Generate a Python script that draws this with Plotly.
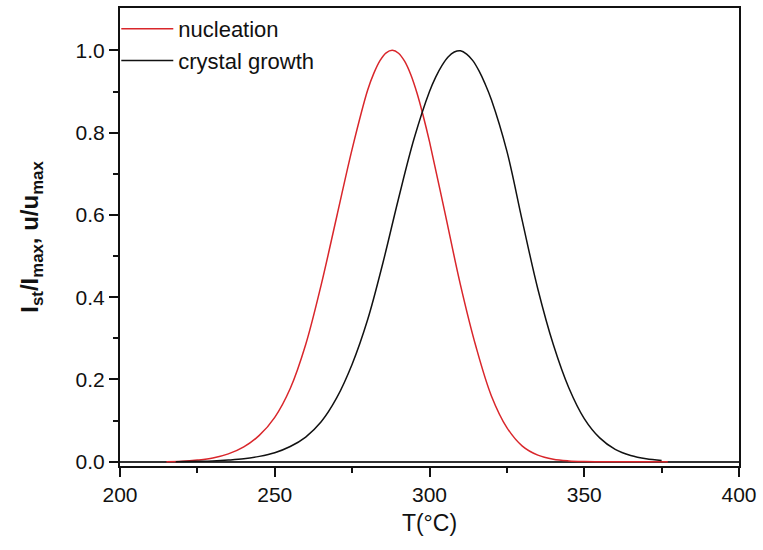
import plotly.graph_objects as go

# Temperatures (°C) and normalized rates
T_nuc = [215, 220, 225, 230, 235, 240, 245, 250, 255, 260, 265, 270, 275, 280, 282, 284, 286,
         288, 290, 292, 294, 296, 298, 300, 305, 310, 315, 320, 325, 330, 335, 340, 345, 350,
         355, 360, 365, 370, 377]
nucleation = [0.0, 0.001, 0.004, 0.009, 0.019, 0.036, 0.064, 0.108, 0.178, 0.285, 0.43, 0.595,
              0.76, 0.903, 0.944, 0.975, 0.994, 1.0, 0.993, 0.973, 0.94, 0.895, 0.84, 0.778,
              0.605, 0.43, 0.28, 0.16, 0.083, 0.038, 0.016, 0.006, 0.002, 0.0005, 0.0, 0.0,
              0.0, 0.0, 0.0]

T_growth = [218, 225, 230, 235, 240, 245, 250, 255, 260, 265, 270, 275, 280, 285, 290, 295,
            300, 302, 304, 306, 308, 310, 312, 314, 316, 318, 320, 325, 330, 335, 340, 345,
            350, 355, 360, 365, 370, 375]
growth = [0.0, 0.001, 0.002, 0.004, 0.007, 0.013, 0.022, 0.037, 0.06, 0.097, 0.155, 0.237,
          0.345, 0.485, 0.64, 0.785, 0.90, 0.935, 0.963, 0.984, 0.996, 0.999, 0.991, 0.975,
          0.95, 0.918, 0.88, 0.755, 0.585, 0.42, 0.285, 0.18, 0.105, 0.058, 0.03, 0.015,
          0.007, 0.003]

x_ticks = [200, 250, 300, 350, 400]
y_ticks = [0.0, 0.2, 0.4, 0.6, 0.8, 1.0]
y_tick_labels = ["0.0", "0.2", "0.4", "0.6", "0.8", "1.0"]

FONT = "Arial, Liberation Sans, sans-serif"

fig = go.Figure()
fig.add_trace(go.Scatter(x=T_nuc, y=nucleation, mode="lines", name="nucleation",
                         line=dict(color="#d9262b", width=1.5, shape="spline", smoothing=1.0)))
fig.add_trace(go.Scatter(x=T_growth, y=growth, mode="lines", name="crystal growth",
                         line=dict(color="#111111", width=1.5, shape="spline", smoothing=1.0)))

fig.update_layout(
    width=763, height=550,
    margin=dict(l=120, r=23, t=6, b=84),
    paper_bgcolor="white", plot_bgcolor="white",
    font=dict(family=FONT, size=21, color="#111"),
    showlegend=True,
    legend=dict(x=-0.006, y=1.0, xanchor="left", yanchor="top",
                bgcolor="rgba(0,0,0,0)", borderwidth=0,
                font=dict(family=FONT, size=22, color="#111"),
                itemwidth=52, tracegroupgap=0),
    xaxis=dict(range=[200, 400], tickvals=x_ticks, showgrid=False, zeroline=False,
               showline=True, linecolor="#111", linewidth=2, mirror=True,
               ticks="outside", ticklen=9, tickwidth=1.5, tickcolor="#111",
               tickfont=dict(family=FONT, size=21, color="#111"),
               minor=dict(dtick=25, ticks="outside", ticklen=5, tickwidth=1.5, tickcolor="#111"),
               title=dict(text="T(°C)", font=dict(family=FONT, size=23, color="#111"), standoff=10)),
    yaxis=dict(range=[-0.0104, 1.103], tickvals=y_ticks, ticktext=y_tick_labels,
               showgrid=False, zeroline=True, zerolinecolor="#333", zerolinewidth=1.5,
               showline=True, linecolor="#111", linewidth=2, mirror=True,
               ticks="outside", ticklen=9, tickwidth=1.5, tickcolor="#111",
               tickfont=dict(family=FONT, size=21, color="#111"),
               minor=dict(tickvals=[0.1, 0.3, 0.5, 0.7, 0.9], ticks="outside", ticklen=5,
                          tickwidth=1.5, tickcolor="#111"),
               title=dict(text="<b>I<sub>st</sub>/I<sub>max</sub>, u/u<sub>max</sub></b>",
                          font=dict(family=FONT, size=24, color="#111"), standoff=30)),
)

fig.write_html("out.html", config={"displayModeBar": False},
               post_script="document.body.style.margin='0';")
